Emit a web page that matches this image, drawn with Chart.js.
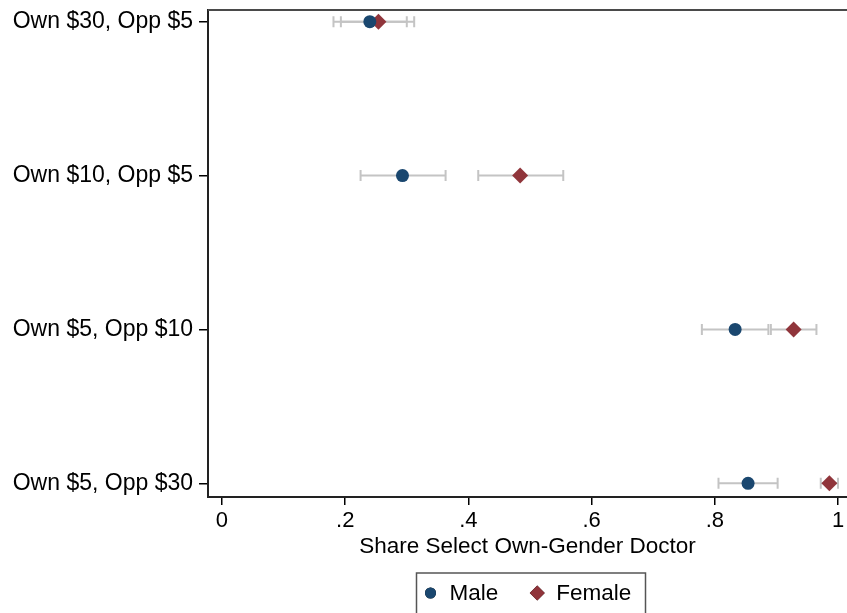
<!DOCTYPE html>
<html>
<head>
<meta charset="utf-8">
<script src="https://cdn.jsdelivr.net/npm/chart.js@4/dist/chart.umd.min.js"></script>
<style>
  html, body { margin: 0; padding: 0; background: #fff; }
  #wrap { width: 847px; height: 613px; position: relative; }
</style>
</head>
<body>
<div id="wrap"><canvas id="c"></canvas></div>
<script>
var categories = ['Own $30, Opp $5', 'Own $10, Opp $5', 'Own $5, Opp $10', 'Own $5, Opp $30'];
var xTicks = [0, 0.2, 0.4, 0.6, 0.8, 1];

var maleShare = [0.240, 0.293, 0.833, 0.854];
var maleLow   = [0.181, 0.225, 0.779, 0.806];
var maleHigh  = [0.300, 0.363, 0.887, 0.902];

var femaleShare = [0.254, 0.484, 0.928, 0.986];
var femaleLow   = [0.193, 0.416, 0.891, 0.972];
var femaleHigh  = [0.312, 0.554, 0.965, 1.000];

var navy = '#1a476f';
var maroon = '#90353b';
var font = '"Liberation Sans", Arial, Helvetica, sans-serif';

function points(vals, lo, hi) {
    return vals.map(function (v, i) {
        return { x: v, y: i + 1, lo: lo[i], hi: hi[i] };
    });
}

// grey confidence bars, drawn under the markers
var errorBars = {
    id: 'errorBars',
    beforeDatasetsDraw: function (chart) {
        var ctx = chart.ctx, xs = chart.scales.x, ys = chart.scales.y;
        ctx.save();
        ctx.strokeStyle = '#c4c4c4';
        ctx.lineWidth = 2;
        chart.data.datasets.forEach(function (ds) {
            ds.data.forEach(function (p) {
                var y = ys.getPixelForValue(p.y);
                var a = xs.getPixelForValue(p.lo), b = xs.getPixelForValue(p.hi);
                ctx.beginPath();
                ctx.moveTo(a, y); ctx.lineTo(b, y);
                ctx.moveTo(a, y - 5.5); ctx.lineTo(a, y + 5.5);
                ctx.moveTo(b, y - 5.5); ctx.lineTo(b, y + 5.5);
                ctx.stroke();
            });
        });
        ctx.restore();
    }
};

// top edge of plot region + boxed legend at the bottom
var frameAndLegend = {
    id: 'frameAndLegend',
    afterDraw: function (chart) {
        var ctx = chart.ctx, area = chart.chartArea;
        ctx.save();
        ctx.strokeStyle = '#4a4a4a';
        ctx.lineWidth = 2;
        ctx.beginPath();
        ctx.moveTo(area.left, area.top);
        ctx.lineTo(chart.width, area.top);
        ctx.stroke();

        var cx = (area.left + area.right) / 2;
        var left = cx - 111, top = 573, w = 229, h = 50;
        ctx.strokeStyle = '#555';
        ctx.lineWidth = 1.5;
        ctx.strokeRect(left, top, w, h);

        var cy = 593;
        ctx.font = '22.5px ' + font;
        ctx.fillStyle = '#000';
        ctx.textBaseline = 'middle';
        var x = left + 14;
        chart.data.datasets.forEach(function (ds) {
            Chart.helpers.drawPoint(ctx, {
                pointStyle: ds.pointStyle,
                radius: ds.pointStyle === 'circle' ? 5.5 : 7.5,
                borderWidth: 0
            }, x, cy);
            ctx.fillStyle = ds.backgroundColor;
            ctx.fill();
            ctx.fillStyle = '#000';
            ctx.fillText(ds.label, x + 19, cy + 1);
            x += 19 + ctx.measureText(ds.label).width + 39;
        });
        ctx.restore();
    }
};

new Chart(document.getElementById('c'), {
    type: 'scatter',
    data: {
        datasets: [{
            label: 'Male',
            data: points(maleShare, maleLow, maleHigh),
            pointStyle: 'circle',
            pointRadius: 6.5,
            pointHoverRadius: 6.5,
            backgroundColor: navy,
            borderColor: navy,
            borderWidth: 0
        }, {
            label: 'Female',
            data: points(femaleShare, femaleLow, femaleHigh),
            pointStyle: 'rectRot',
            pointRadius: 8,
            pointHoverRadius: 8,
            backgroundColor: maroon,
            borderColor: maroon,
            borderWidth: 0
        }]
    },
    options: {
        responsive: true,
        maintainAspectRatio: false,
        animation: false,
        layout: { autoPadding: false, padding: { top: 10, bottom: 50, left: 0, right: 0 } },
        plugins: {
            legend: { display: false },
            tooltip: { enabled: false }
        },
        scales: {
            x: {
                type: 'linear',
                min: -0.0227,
                max: 1.0146,
                afterBuildTicks: function (s) {
                    s.ticks = xTicks.map(function (v) { return { value: v }; });
                },
                afterFit: function (s) {
                    s.height = 66;
                    s.paddingLeft = 0;
                    s.paddingRight = 0;
                },
                ticks: {
                    autoSkip: false,
                    maxRotation: 0,
                    padding: 3,
                    color: '#000',
                    font: { family: font, size: 22 },
                    callback: function (v) {
                        return v === 0 || v === 1 ? String(v) : String(+v.toFixed(1)).replace(/^0/, '');
                    }
                },
                grid: { drawOnChartArea: false, drawTicks: true, tickLength: 8, color: '#000', lineWidth: 1.5 },
                border: { display: true, color: '#222', width: 2 },
                title: {
                    display: true,
                    text: 'Share Select Own-Gender Doctor',
                    color: '#000',
                    font: { family: font, size: 22.5 },
                    padding: { top: 0, bottom: 3 }
                }
            },
            y: {
                type: 'linear',
                reverse: true,
                min: 0.924,
                max: 4.089,
                afterBuildTicks: function (s) {
                    s.ticks = categories.map(function (c, i) { return { value: i + 1 }; });
                },
                afterFit: function (s) {
                    s.width = 208;
                    s.paddingTop = 0;
                    s.paddingBottom = 0;
                },
                ticks: {
                    autoSkip: false,
                    padding: 6,
                    color: '#000',
                    font: { family: font, size: 23, lineHeight: 1 },
                    callback: function (v) { return categories[v - 1]; }
                },
                grid: { drawOnChartArea: false, drawTicks: true, tickLength: 9, color: '#000', lineWidth: 1.5 },
                border: { display: true, color: '#222', width: 2 }
            }
        }
    },
    plugins: [errorBars, frameAndLegend]
});
</script>
</body>
</html>
